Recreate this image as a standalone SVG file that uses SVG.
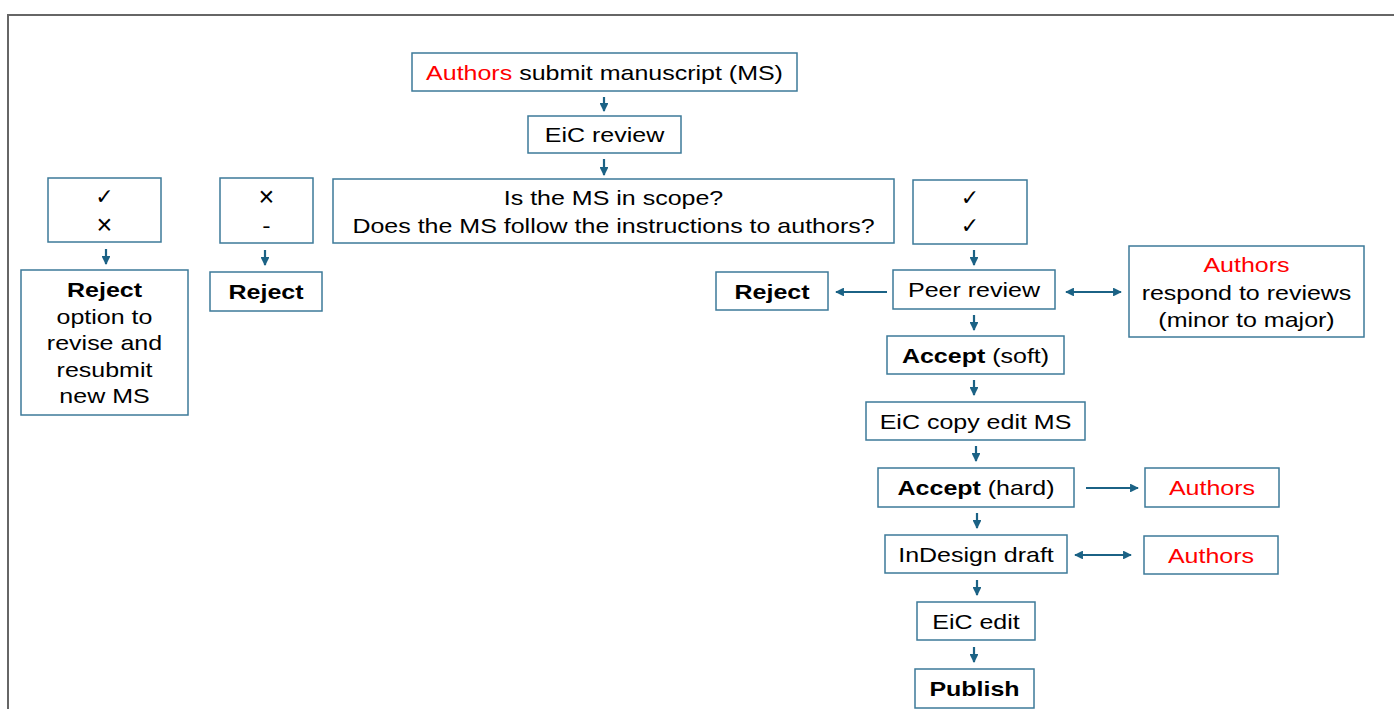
<svg xmlns="http://www.w3.org/2000/svg" width="1394" height="709" viewBox="0 0 1394 709">
<defs>
<style>
.box{fill:#fff;stroke:#3d7a99;stroke-width:1.5}
.t{font-family:"Liberation Sans",Arial,sans-serif;font-size:21px;fill:#000;text-anchor:middle}
.b{font-weight:bold}
.r{fill:#ff0000}
.sym{font-family:"DejaVu Sans",sans-serif;font-size:22px;fill:#000;text-anchor:middle}
.x{font-family:"Liberation Sans",Arial,sans-serif;font-size:27px;fill:#000;text-anchor:middle}
.c{stroke:#1b6285;stroke-width:2.2;fill:none}
</style>
<marker id="ah" viewBox="0 0 10 10" refX="9" refY="5" markerWidth="4" markerHeight="4" orient="auto-start-reverse" markerUnits="strokeWidth">
<path d="M0,0 L10,5 L0,10 z" fill="#1b6285"/>
</marker>
</defs>
<rect width="1394" height="709" fill="#fff"/>
<path d="M8,709 L8,15 L1394,15" fill="none" stroke="#666" stroke-width="2"/>

<g id="n-submit"><rect class="box" x="412" y="53" width="385" height="38"/><text class="t" transform="translate(604.5,80) scale(1.19,1)"><tspan class="r">Authors</tspan> submit manuscript (MS)</text></g>
<g id="n-eic"><rect class="box" x="528" y="116" width="153" height="37"/><text class="t" transform="translate(604.5,142) scale(1.19,1)">EiC review</text></g>
<g id="n-scope"><rect class="box" x="333" y="179" width="561" height="64"/><text class="t" transform="translate(613.5,205) scale(1.19,1)">Is the MS in scope?</text><text class="t" transform="translate(613.5,233) scale(1.19,1)">Does the MS follow the instructions to authors?</text></g>
<g id="n-ck1"><rect class="box" x="48" y="178" width="113" height="64"/><text class="sym" x="104.5" y="204">✓</text><text class="x" x="104.5" y="234">×</text></g>
<g id="n-rej1"><rect class="box" x="21" y="270" width="167" height="145"/><text class="t b" transform="translate(104.5,297) scale(1.19,1)">Reject</text><text class="t" transform="translate(104.5,324) scale(1.19,1)">option to</text><text class="t" transform="translate(104.5,350) scale(1.19,1)">revise and</text><text class="t" transform="translate(104.5,377) scale(1.19,1)">resubmit</text><text class="t" transform="translate(104.5,403) scale(1.19,1)">new MS</text></g>
<g id="n-ck2"><rect class="box" x="220" y="178" width="93" height="65"/><text class="x" x="266.5" y="206">×</text><text class="t" transform="translate(266.5,233) scale(1.19,1)">-</text></g>
<g id="n-rej2"><rect class="box" x="210" y="272" width="112" height="39"/><text class="t b" transform="translate(266,299) scale(1.19,1)">Reject</text></g>
<g id="n-ck3"><rect class="box" x="913" y="180" width="114" height="64"/><text class="sym" x="970" y="205">✓</text><text class="sym" x="970" y="233">✓</text></g>
<g id="n-peer"><rect class="box" x="893" y="270" width="162" height="39"/><text class="t" transform="translate(974,297) scale(1.19,1)">Peer review</text></g>
<g id="n-rej3"><rect class="box" x="716" y="272" width="112" height="38"/><text class="t b" transform="translate(772,299) scale(1.19,1)">Reject</text></g>
<g id="n-resp"><rect class="box" x="1129" y="246" width="235" height="91"/><text class="t r" transform="translate(1246.5,272) scale(1.19,1)">Authors</text><text class="t" transform="translate(1246.5,300) scale(1.19,1)">respond to reviews</text><text class="t" transform="translate(1246.5,327) scale(1.19,1)">(minor to major)</text></g>
<g id="n-soft"><rect class="box" x="887" y="336" width="177" height="38"/><text class="t" transform="translate(975.5,363) scale(1.19,1)"><tspan class="b">Accept</tspan> (soft)</text></g>
<g id="n-copy"><rect class="box" x="866" y="402" width="219" height="38"/><text class="t" transform="translate(975.5,429) scale(1.19,1)">EiC copy edit MS</text></g>
<g id="n-hard"><rect class="box" x="878" y="468" width="196" height="39"/><text class="t" transform="translate(976,495) scale(1.19,1)"><tspan class="b">Accept</tspan> (hard)</text></g>
<g id="n-auth1"><rect class="box" x="1145" y="468" width="134" height="39"/><text class="t r" transform="translate(1212,495) scale(1.19,1)">Authors</text></g>
<g id="n-indesign"><rect class="box" x="885" y="535" width="182" height="38"/><text class="t" transform="translate(976,562) scale(1.19,1)">InDesign draft</text></g>
<g id="n-auth2"><rect class="box" x="1144" y="536" width="134" height="38"/><text class="t r" transform="translate(1211,563) scale(1.19,1)">Authors</text></g>
<g id="n-eicedit"><rect class="box" x="917" y="602" width="118" height="38"/><text class="t" transform="translate(976,629) scale(1.19,1)">EiC edit</text></g>
<g id="n-publish"><rect class="box" x="915" y="669" width="119" height="39"/><text class="t b" transform="translate(974.5,696) scale(1.19,1)">Publish</text></g>

<g id="connectors">
<line class="c" x1="604" y1="97" x2="604" y2="111" marker-end="url(#ah)"/>
<line class="c" x1="604" y1="159" x2="604" y2="175" marker-end="url(#ah)"/>
<line class="c" x1="106" y1="249" x2="106" y2="264" marker-end="url(#ah)"/>
<line class="c" x1="265" y1="250" x2="265" y2="265" marker-end="url(#ah)"/>
<line class="c" x1="974" y1="250" x2="974" y2="265" marker-end="url(#ah)"/>
<line class="c" x1="974" y1="315" x2="974" y2="330" marker-end="url(#ah)"/>
<line class="c" x1="974" y1="380" x2="974" y2="395" marker-end="url(#ah)"/>
<line class="c" x1="976" y1="446" x2="976" y2="461" marker-end="url(#ah)"/>
<line class="c" x1="977" y1="513" x2="977" y2="528" marker-end="url(#ah)"/>
<line class="c" x1="977" y1="580" x2="977" y2="595" marker-end="url(#ah)"/>
<line class="c" x1="974" y1="647" x2="974" y2="662" marker-end="url(#ah)"/>
<line class="c" x1="887" y1="292" x2="836" y2="292" marker-end="url(#ah)"/>
<line class="c" x1="1066" y1="292" x2="1121" y2="292" marker-start="url(#ah)" marker-end="url(#ah)"/>
<line class="c" x1="1086" y1="488" x2="1138" y2="488" marker-end="url(#ah)"/>
<line class="c" x1="1075" y1="555" x2="1131" y2="555" marker-start="url(#ah)" marker-end="url(#ah)"/>
</g>
</svg>
